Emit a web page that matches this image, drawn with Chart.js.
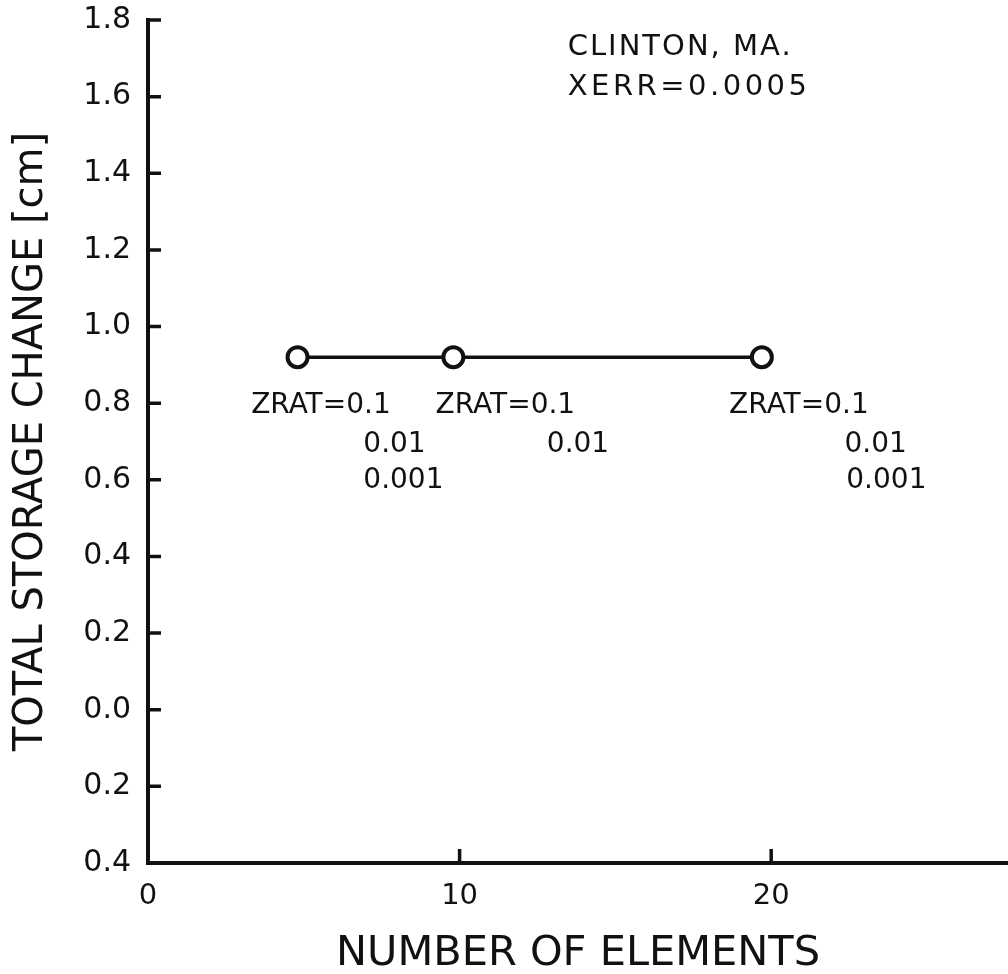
<!DOCTYPE html>
<html lang="en">
<head>
<meta charset="UTF-8">
<title>Total storage change vs number of elements</title>
<script src="https://cdn.jsdelivr.net/npm/chart.js"></script>
<style>
    body { margin: 0; background: #fff; }
    canvas { display: block; }
</style>
</head>
<body>
<canvas id="storageChart" width="1008" height="974"></canvas>
<script>
// data
var elements = [4.8, 9.8, 19.7];
var storageChange = [0.92, 0.92, 0.92];

var xTicks = [0, 10, 20];
var yTicks = [-0.4, -0.2, 0.0, 0.2, 0.4, 0.6, 0.8, 1.0, 1.2, 1.4, 1.6, 1.8];

// text written on the plot, anchored in data units (left edge, middle)
var notes = [
    { text: 'CLINTON, MA.', x: 13.47, y: 1.728, size: 29, spacing: 2 },
    { text: 'XERR=0.0005', x: 13.47, y: 1.625, size: 29, spacing: 3.5 },
    { text: 'ZRAT=0.1', x: 3.31, y: 0.793, size: 28, spacing: 0 },
    { text: '0.01', x: 6.91, y: 0.691, size: 28, spacing: 0 },
    { text: '0.001', x: 6.91, y: 0.597, size: 28, spacing: 0 },
    { text: 'ZRAT=0.1', x: 9.23, y: 0.793, size: 28, spacing: 0 },
    { text: '0.01', x: 12.80, y: 0.691, size: 28, spacing: 0 },
    { text: 'ZRAT=0.1', x: 18.65, y: 0.793, size: 28, spacing: 0 },
    { text: '0.01', x: 22.35, y: 0.691, size: 28, spacing: 0 },
    { text: '0.001', x: 22.41, y: 0.597, size: 28, spacing: 0 }
];

var ink = '#111';
var fontFamily = '"DejaVu Sans", sans-serif';

// short tick marks pointing into the plot
var inwardTicks = {
    id: 'inwardTicks',
    afterDatasetsDraw: function (chart) {
        var ctx = chart.ctx;
        var area = chart.chartArea;
        var xs = chart.scales.x, ys = chart.scales.y;
        ctx.save();
        ctx.strokeStyle = ink;
        ctx.lineWidth = 3.5;
        ctx.beginPath();
        yTicks.forEach(function (v) {
            if (v === ys.min) return;
            var py = ys.getPixelForValue(v);
            ctx.moveTo(area.left, py);
            ctx.lineTo(area.left + 13, py);
        });
        xTicks.forEach(function (v) {
            if (v === xs.min) return;
            var px = xs.getPixelForValue(v);
            ctx.moveTo(px, area.bottom);
            ctx.lineTo(px, area.bottom - 14);
        });
        ctx.stroke();
        ctx.restore();
    }
};

var plotNotes = {
    id: 'plotNotes',
    afterDatasetsDraw: function (chart) {
        var ctx = chart.ctx;
        var xs = chart.scales.x, ys = chart.scales.y;
        ctx.save();
        ctx.fillStyle = ink;
        ctx.textAlign = 'left';
        ctx.textBaseline = 'middle';
        notes.forEach(function (n) {
            ctx.font = n.size + 'px ' + fontFamily;
            ctx.letterSpacing = n.spacing + 'px';
            ctx.fillText(n.text, xs.getPixelForValue(n.x), ys.getPixelForValue(n.y));
        });
        ctx.restore();
    }
};

var ctx = document.getElementById('storageChart').getContext('2d');
var storageChart = new Chart(ctx, {
    type: 'line',
    data: {
        datasets: [{
            data: elements.map(function (e, i) { return { x: e, y: storageChange[i] }; }),
            borderColor: ink,
            borderWidth: 3.5,
            pointRadius: 10,
            pointBorderWidth: 4,
            pointBackgroundColor: '#fff',
            pointBorderColor: ink,
            tension: 0,
            clip: false
        }]
    },
    options: {
        responsive: false,
        animation: false,
        layout: {
            autoPadding: false,
            padding: { top: 20, right: 0, bottom: 0, left: 0 }
        },
        plugins: {
            legend: { display: false },
            tooltip: { enabled: false }
        },
        scales: {
            x: {
                type: 'linear',
                min: 0,
                max: 27.6,
                afterBuildTicks: function (scale) {
                    scale.ticks = xTicks.map(function (v) { return { value: v }; });
                },
                afterFit: function (scale) {
                    scale.height = 111;
                    scale.paddingLeft = 0;
                    scale.paddingRight = 0;
                },
                grid: { display: false, drawTicks: false },
                border: { display: true, color: ink, width: 4 },
                ticks: {
                    color: ink,
                    padding: 16,
                    maxRotation: 0,
                    font: { family: fontFamily, size: 29 },
                    callback: function (v) { return String(v); }
                },
                title: {
                    display: true,
                    text: 'NUMBER OF ELEMENTS',
                    color: ink,
                    padding: { top: 0, bottom: -5 },
                    font: { family: fontFamily, size: 41.5 }
                }
            },
            y: {
                type: 'linear',
                min: -0.4,
                max: 1.8,
                afterBuildTicks: function (scale) {
                    scale.ticks = yTicks.map(function (v) { return { value: v }; });
                },
                afterFit: function (scale) {
                    scale.width = 148;
                    scale.paddingTop = 0;
                    scale.paddingBottom = 0;
                },
                grid: { display: false, drawTicks: false },
                border: { display: true, color: ink, width: 4 },
                ticks: {
                    color: ink,
                    padding: 17,
                    font: { family: fontFamily, size: 30 },
                    // the original prints negative values without a sign
                    callback: function (v) { return Math.abs(v).toFixed(1); }
                },
                title: {
                    display: true,
                    text: 'TOTAL STORAGE CHANGE [cm]',
                    color: ink,
                    padding: { top: 8, bottom: 0 },
                    font: { family: fontFamily, size: 40 }
                }
            }
        }
    },
    plugins: [inwardTicks, plotNotes]
});
</script>
</body>
</html>
